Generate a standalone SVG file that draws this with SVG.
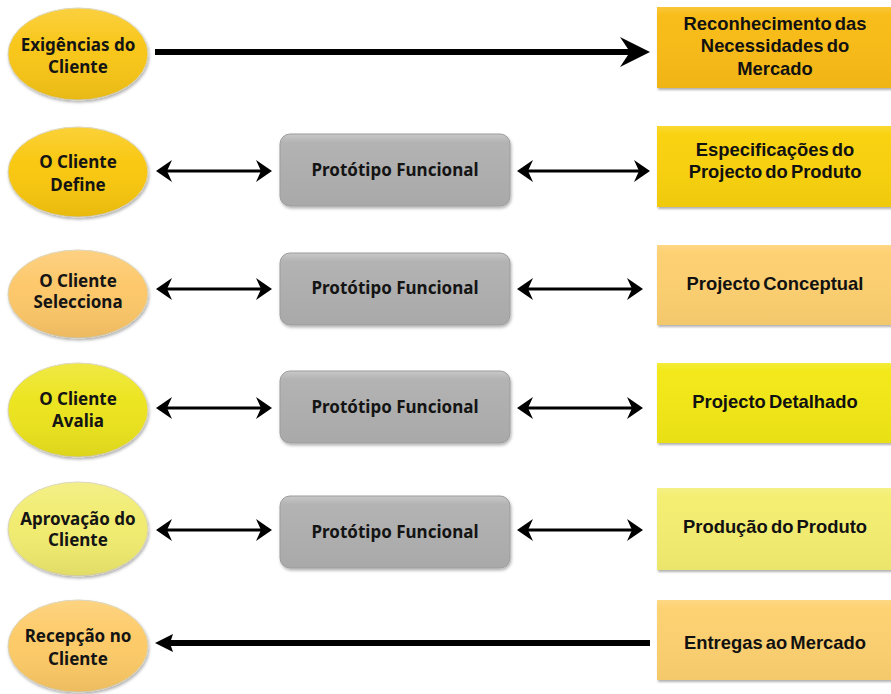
<svg xmlns="http://www.w3.org/2000/svg" width="891" height="694" viewBox="0 0 891 694">
  <defs>
    <style>
      .ell { stroke: #d9d3b8; stroke-width: 1; filter: url(#shadow); }
      .ell-gloss { fill: url(#gloss); pointer-events: none; }
      .proto { fill: url(#grayFill); stroke: #9c9c9c; stroke-width: 1; filter: url(#shadow); }
      .box { filter: url(#boxShadow); }
      .box-gloss { fill: url(#boxGloss); }
      .t-ell { font-family: "Noto Sans", "DejaVu Sans", sans-serif; font-weight: 700; font-size: 17px; fill: #141414; text-anchor: middle; }
      .t-box { font-family: "Liberation Sans", Arial, sans-serif; font-weight: 700; font-size: 18.4px; fill: #111; text-anchor: middle; word-spacing: -2px; }
      .thick { stroke: #000; stroke-width: 6; fill: none; }
      .thin { stroke: #000; stroke-width: 3; fill: none; }
    </style>
    <filter id="shadow" x="-10%" y="-10%" width="125%" height="130%">
      <feDropShadow dx="1" dy="2" stdDeviation="1.5" flood-color="#000" flood-opacity="0.3"/>
    </filter>
    <filter id="boxShadow" x="-5%" y="-10%" width="115%" height="130%">
      <feDropShadow dx="1" dy="2" stdDeviation="1.2" flood-color="#000" flood-opacity="0.3"/>
    </filter>
    <linearGradient id="gloss" x1="0" y1="0" x2="0" y2="1">
      <stop offset="0" stop-color="#fff" stop-opacity="0.18"/>
      <stop offset="0.4" stop-color="#fff" stop-opacity="0.02"/>
      <stop offset="1" stop-color="#000" stop-opacity="0.07"/>
    </linearGradient>
    <linearGradient id="boxGloss" x1="0" y1="0" x2="0" y2="1">
      <stop offset="0" stop-color="#fff" stop-opacity="0.15"/>
      <stop offset="0.1" stop-color="#fff" stop-opacity="0.02"/>
      <stop offset="1" stop-color="#000" stop-opacity="0.04"/>
    </linearGradient>
    <linearGradient id="grayFill" x1="0" y1="0" x2="0" y2="1">
      <stop offset="0" stop-color="#c8c8c8"/>
      <stop offset="0.12" stop-color="#b3b3b3"/>
      <stop offset="1" stop-color="#a9a9a9"/>
    </linearGradient>
    <marker id="headThick" markerUnits="userSpaceOnUse" markerWidth="32" markerHeight="32" viewBox="0 -16 32 32" refX="10" refY="0" orient="auto">
      <path d="M0,-15 L30,0 L0,15 L10,0 Z" fill="#000"/>
    </marker>
    <marker id="headMid" markerUnits="userSpaceOnUse" markerWidth="20" markerHeight="20" viewBox="0 -10 20 20" refX="3" refY="0" orient="auto">
      <path d="M0,-9 L18,0 L0,9 L3,0 Z" fill="#000"/>
    </marker>
    <marker id="headThin" markerUnits="userSpaceOnUse" markerWidth="18" markerHeight="24" viewBox="0 -12 18 24" refX="5" refY="0" orient="auto-start-reverse">
      <path d="M0,-11 L16,0 L0,11 L5,0 Z" fill="#000"/>
    </marker>
  </defs>

  <rect width="891" height="694" fill="#fff"/>

  <!-- connectors -->
  <g id="connectors">
    <line class="thick" x1="155" y1="52" x2="630" y2="52" marker-end="url(#headThick)"/>
    <line class="thin" x1="167" y1="171" x2="261" y2="171" marker-start="url(#headThin)" marker-end="url(#headThin)"/>
    <line class="thin" x1="528" y1="171" x2="639" y2="171" marker-start="url(#headThin)" marker-end="url(#headThin)"/>
    <line class="thin" x1="167" y1="289" x2="261" y2="289" marker-start="url(#headThin)" marker-end="url(#headThin)"/>
    <line class="thin" x1="528" y1="289" x2="632" y2="289" marker-start="url(#headThin)" marker-end="url(#headThin)"/>
    <line class="thin" x1="167" y1="408" x2="261" y2="408" marker-start="url(#headThin)" marker-end="url(#headThin)"/>
    <line class="thin" x1="528" y1="408" x2="632" y2="408" marker-start="url(#headThin)" marker-end="url(#headThin)"/>
    <line class="thin" x1="167" y1="530" x2="261" y2="530" marker-start="url(#headThin)" marker-end="url(#headThin)"/>
    <line class="thin" x1="528" y1="530" x2="632" y2="530" marker-start="url(#headThin)" marker-end="url(#headThin)"/>
    <line class="thick" x1="650" y1="643" x2="170" y2="643" marker-end="url(#headMid)"/>
  </g>

  <!-- client-side ellipses -->
  <g id="exigencias">
    <ellipse class="ell" cx="78" cy="54" rx="70" ry="46" fill="#f9c612"/>
    <ellipse class="ell-gloss" cx="78" cy="54" rx="70" ry="46"/>
    <text class="t-ell" x="78" y="51">Exigências do</text>
    <text class="t-ell" x="78" y="73">Cliente</text>
  </g>
  <g id="define">
    <ellipse class="ell" cx="78" cy="172" rx="70" ry="45" fill="#f9c70c"/>
    <ellipse class="ell-gloss" cx="78" cy="172" rx="70" ry="45"/>
    <text class="t-ell" x="78" y="168">O Cliente</text>
    <text class="t-ell" x="78" y="191">Define</text>
  </g>
  <g id="selecciona">
    <ellipse class="ell" cx="78" cy="294" rx="70" ry="44" fill="#fdc768"/>
    <ellipse class="ell-gloss" cx="78" cy="294" rx="70" ry="44"/>
    <text class="t-ell" x="78" y="287">O Cliente</text>
    <text class="t-ell" x="78" y="308">Selecciona</text>
  </g>
  <g id="avalia">
    <ellipse class="ell" cx="78" cy="410" rx="70" ry="47" fill="#ece41c"/>
    <ellipse class="ell-gloss" cx="78" cy="410" rx="70" ry="47"/>
    <text class="t-ell" x="78" y="405">O Cliente</text>
    <text class="t-ell" x="78" y="427">Avalia</text>
  </g>
  <g id="aprovacao">
    <ellipse class="ell" cx="78" cy="529" rx="70" ry="47" fill="#f1ec6e"/>
    <ellipse class="ell-gloss" cx="78" cy="529" rx="70" ry="47"/>
    <text class="t-ell" x="78" y="525">Aprovação do</text>
    <text class="t-ell" x="78" y="546">Cliente</text>
  </g>
  <g id="recepcao">
    <ellipse class="ell" cx="78" cy="646" rx="70" ry="46" fill="#fdca66"/>
    <ellipse class="ell-gloss" cx="78" cy="646" rx="70" ry="46"/>
    <text class="t-ell" x="78" y="642">Recepção no</text>
    <text class="t-ell" x="78" y="665">Cliente</text>
  </g>

  <!-- functional prototypes -->
  <g id="prototipo1">
    <rect class="proto" x="280" y="134" width="230" height="72" rx="10"/>
    <text class="t-ell" x="395" y="176">Protótipo Funcional</text>
  </g>
  <g id="prototipo2">
    <rect class="proto" x="280" y="253" width="230" height="72" rx="10"/>
    <text class="t-ell" x="395" y="294">Protótipo Funcional</text>
  </g>
  <g id="prototipo3">
    <rect class="proto" x="280" y="371" width="230" height="72" rx="10"/>
    <text class="t-ell" x="395" y="413">Protótipo Funcional</text>
  </g>
  <g id="prototipo4">
    <rect class="proto" x="280" y="496" width="230" height="72" rx="10"/>
    <text class="t-ell" x="395" y="538">Protótipo Funcional</text>
  </g>

  <!-- development stages -->
  <g id="reconhecimento">
    <rect class="box" x="657" y="7" width="240" height="81" fill="#f9bc14"/>
    <rect class="box-gloss" x="657" y="7" width="240" height="81"/>
    <text class="t-box" x="775" y="29.5">Reconhecimento das</text>
    <text class="t-box" x="775" y="51.5">Necessidades do</text>
    <text class="t-box" x="775" y="74.5">Mercado</text>
  </g>
  <g id="especificacoes">
    <rect class="box" x="657" y="126" width="240" height="81" fill="#f9d20c"/>
    <rect class="box-gloss" x="657" y="126" width="240" height="81"/>
    <text class="t-box" x="775" y="155.5">Especificações do</text>
    <text class="t-box" x="775" y="177.5">Projecto do Produto</text>
  </g>
  <g id="conceptual">
    <rect class="box" x="657" y="245" width="240" height="80" fill="#fdd06f"/>
    <rect class="box-gloss" x="657" y="245" width="240" height="80"/>
    <text class="t-box" x="775" y="289.5">Projecto Conceptual</text>
  </g>
  <g id="detalhado">
    <rect class="box" x="657" y="363" width="240" height="80" fill="#f2e819"/>
    <rect class="box-gloss" x="657" y="363" width="240" height="80"/>
    <text class="t-box" x="775" y="407.5">Projecto Detalhado</text>
  </g>
  <g id="producao">
    <rect class="box" x="657" y="488" width="240" height="82" fill="#f4ee70"/>
    <rect class="box-gloss" x="657" y="488" width="240" height="82"/>
    <text class="t-box" x="775" y="532.5">Produção do Produto</text>
  </g>
  <g id="entregas">
    <rect class="box" x="657" y="600" width="240" height="80" fill="#fdd170"/>
    <rect class="box-gloss" x="657" y="600" width="240" height="80"/>
    <text class="t-box" x="775" y="648.5">Entregas ao Mercado</text>
  </g>
</svg>
